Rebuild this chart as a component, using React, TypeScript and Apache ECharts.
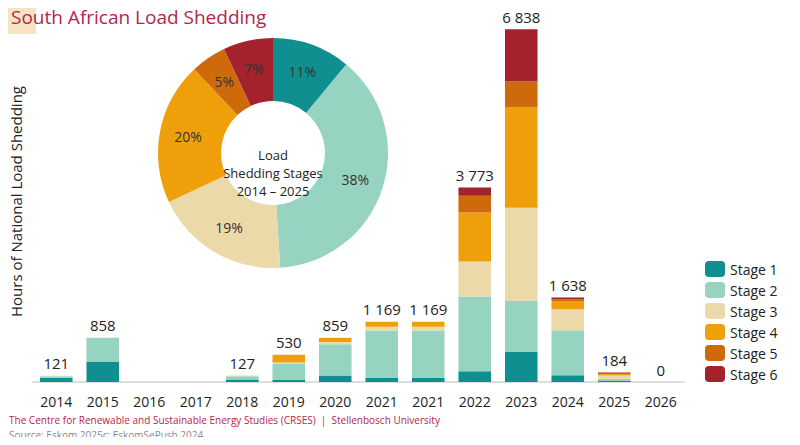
import React, { useEffect, useRef } from 'react';
import * as echarts from 'echarts';

const years = ['2014', '2015', '2016', '2017', '2018', '2019', '2020', '2021', '2021 ', '2022', '2023', '2024', '2025', '2026'];
const stageNames = ['Stage 1', 'Stage 2', 'Stage 3', 'Stage 4', 'Stage 5', 'Stage 6'];
const stageColors = ['#0f8f8f', '#96d3c0', '#ecd9aa', '#ee9f0a', '#cf6a0c', '#a3222b'];
const stage1 = [80, 390, 0, 0, 50, 40, 124, 76, 76, 207, 583, 129, 20, 0];
const stage2 = [30, 468, 0, 0, 60, 310, 610, 925, 925, 1449, 990, 873, 44, 0];
const stage3 = [11, 0, 0, 0, 17, 30, 40, 71, 71, 679, 1808, 408, 60, 0];
const stage4 = [0, 0, 0, 0, 0, 150, 85, 97, 97, 953, 1943, 162, 30, 0];
const stage5 = [0, 0, 0, 0, 0, 0, 0, 0, 0, 323, 505, 33, 20, 0];
const stage6 = [0, 0, 0, 0, 0, 0, 0, 0, 0, 162, 1010, 33, 10, 0];
const totals = [121, 858, null, null, 127, 530, 859, 1169, 1169, 3773, 6838, 1638, 184, 0];
const pieShares = [11, 38, 19, 20, 5, 7];

const fmt = (v: number) => String(v).replace(/\B(?=(\d{3})+(?!\d))/g, ' ');

const App: React.FC = () => {
  const chartRef = useRef<HTMLDivElement>(null);

  useEffect(() => {
    if (!chartRef.current) return;
    const chart = echarts.init(chartRef.current, null, { renderer: 'svg' });
    const stages = [stage1, stage2, stage3, stage4, stage5, stage6];
    const font = 'Open Sans';

    chart.setOption({
      animation: false,
      textStyle: { fontFamily: font },
      title: [
        { text: 'South African Load Shedding', left: 6, top: 2, textStyle: { color: '#b3264b', fontSize: 19, fontWeight: 'normal' } },
        { text: 'The Centre for Renewable and Sustainable Energy Studies (CRSES)  |  Stellenbosch University', left: 4, top: 410, textStyle: { color: '#b3264b', fontSize: 10, fontWeight: 'normal' } },
        { text: 'Source: Eskom 2025c; EskomSePush 2024.', left: 4, top: 425, textStyle: { color: '#888', fontSize: 10, fontWeight: 'normal' } },
      ],
      graphic: [
        { type: 'rect', left: 0, top: 0, z: -1, shape: { width: 36, height: 34 }, style: { fill: '#f5e3c3' } },
        { type: 'text', x: 273, y: 146, z: 10, style: { text: 'Load\nShedding Stages\n2014 – 2025', fill: '#222', font: '13px Open Sans', align: 'center', verticalAlign: 'top', lineHeight: 18 } },
      ],
      legend: {
        data: stageNames,
        orient: 'vertical',
        left: 700,
        top: 256,
        itemWidth: 20,
        itemHeight: 16,
        itemGap: 5,
        textStyle: { fontSize: 14, color: '#222' },
      },
      grid: { left: 33, right: 116, top: 21, bottom: 63 },
      xAxis: {
        type: 'category',
        data: years,
        axisTick: { show: false },
        axisLine: { lineStyle: { color: '#ddd', width: 2 } },
        axisLabel: { color: '#222', fontSize: 14, margin: 12, formatter: (v: string) => v.trim() },
      },
      yAxis: {
        type: 'value',
        max: 7000,
        name: 'Hours of National Load Shedding',
        nameLocation: 'middle',
        nameGap: 10,
        nameTextStyle: { fontSize: 15, color: '#222' },
        axisLabel: { show: false },
        splitLine: { show: false },
      },
      series: [
        ...stages.map((d, i) => ({
          name: stageNames[i],
          type: 'bar',
          stack: 'h',
          barWidth: '70%',
          itemStyle: { color: stageColors[i] },
          data: d,
        })),
        {
          name: 'total',
          type: 'bar',
          stack: 'h',
          data: totals.map((t) => (t === null ? null : 0)),
          label: {
            show: true,
            position: 'top',
            fontSize: 15,
            color: '#222',
            formatter: (p: any) => (totals[p.dataIndex] === null ? '' : fmt(totals[p.dataIndex] as number)),
          },
        },
        {
          type: 'pie',
          radius: [52, 115],
          center: [273, 153],
          startAngle: 90,
          label: { position: 'inside', formatter: '{c}%', fontSize: 14, color: '#333' },
          labelLine: { show: false },
          data: pieShares.map((v, i) => ({ name: stageNames[i], value: v, itemStyle: { color: stageColors[i] } })),
        },
      ],
    });
    return () => chart.dispose();
  }, []);

  return <div ref={chartRef} style={{ width: 800, height: 445, margin: -8 }} />;
};

export default App;
